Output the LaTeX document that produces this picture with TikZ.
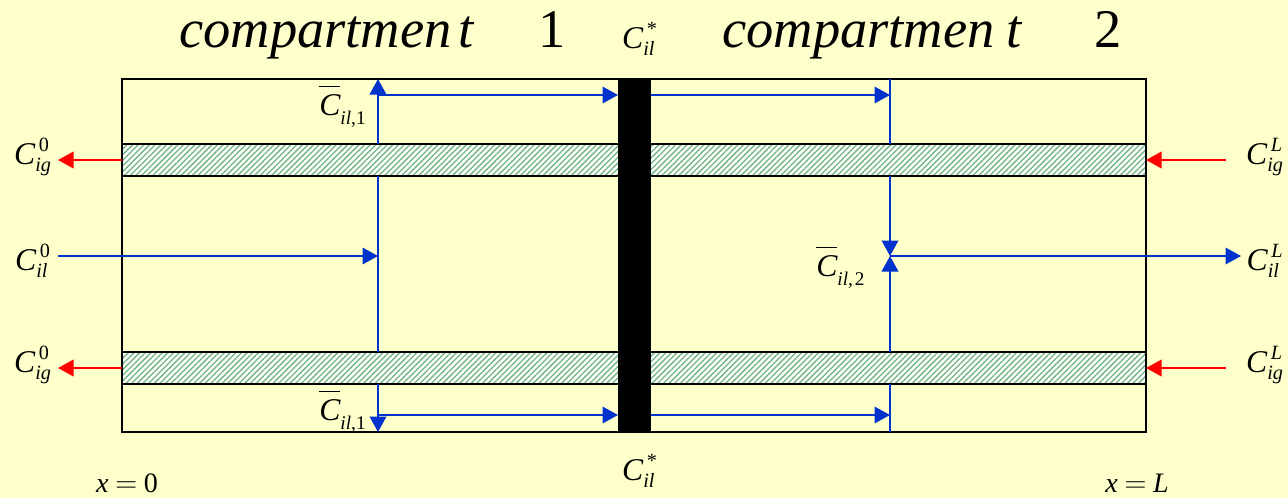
\documentclass[tikz,border=0pt]{standalone}
\usepackage{amsmath}
\usepackage{fontspec}
\setmainfont{Liberation Serif}
\usetikzlibrary{arrows.meta,patterns.meta}
\DeclareMathSizes{18}{18}{11.5}{8}
\definecolor{bgyellow}{RGB}{255,255,204}
\definecolor{flowblue}{RGB}{0,51,204}
\definecolor{hatchgreen}{RGB}{110,180,125}
\newcommand{\conc}[2]{{\fontsize{18}{20}\selectfont$\textit{C}^{\,#1}_{\textit{#2}}$}}
\newcommand{\concbar}[1]{{\fontsize{18}{20}\selectfont$\overline{\rule{0pt}{13.8pt}\textit{C}}$\raisebox{-5.5pt}{\fontsize{11}{12}\selectfont\textit{il},#1}}}
\newcommand{\titletext}[3]{{\fontsize{31}{33}\selectfont\textit{compartmen\kern#1pt t}\hspace{#2pt}#3}}
\tikzset{
	tube/.style = {draw, line width = 0.4mm, outer sep = 0, minimum width = 204.8mm, minimum height = 6.4mm,
		preaction = {fill = white}, preaction = {pattern = {Lines[angle = 45, distance = 0.8mm, line width = 0.26mm]}, pattern color = hatchgreen}},
	flow/.style = {flowblue, line width = 0.4mm},
	flowto/.style = {flow, -{Triangle[length = 3.1mm, width = 3.3mm]}},
	gasflow/.style = {red, line width = 0.4mm, -{Triangle[length = 3.1mm, width = 3.3mm]}},
}
\begin{document}
\begin{tikzpicture}[x = 0.2mm, y = -0.2mm]
		\path [fill = bgyellow, use as bounding box] (0,0) rectangle (1288,498);
		% column and junction points
		\coordinate (midL) at (378,256);
		\coordinate (midR) at (890,256);
		\coordinate (topL) at (378,95);
		\coordinate (botL) at (378,415);
		\coordinate (liqin) at (58,256);
		\coordinate (liqout) at (1241,256);
		\coordinate (gasoutA) at (58,160);
		\coordinate (gasoutB) at (58,368);
		\coordinate (gasinA) at (1226,160);
		\coordinate (gasinB) at (1226,368);
		% shell and tubes
		\node (shell) [draw, line width = 0.4mm, outer sep = 0, minimum width = 204.8mm, minimum height = 70.6mm] at (634,255.5) {};
		\node (tubetop) [tube] at (634,160) {};
		\node (tubebot) [tube] at (634,368) {};
		% liquid side
		\draw [flowto] (liqin) -- (midL);
		\draw [flow] (tubetop.south -| midL) -- (tubebot.north -| midL);
		\draw [flowto] (tubetop.north -| midL) -- (shell.north -| midL);
		\draw [flowto] (tubebot.south -| midL) -- (shell.south -| midL);
		\draw [flow] (shell.north -| midR) -- (tubetop.north -| midR);
		\draw [flow] (tubebot.south -| midR) -- (shell.south -| midR);
		\draw [flowto] (tubetop.south -| midR) -- (midR);
		\draw [flowto] (tubebot.north -| midR) -- (midR);
		\draw [flowto] (midR) -- (liqout);
		% wall between the compartments
		\node (wall) [fill = black, outer sep = 0, inner sep = 0, minimum width = 6.6mm, minimum height = 70.6mm] at (634.5,255.5) {};
		\draw [flowto] (topL) -- (topL -| wall.west);
		\draw [flowto] (topL -| wall.east) -- (topL -| midR);
		\draw [flowto] (botL) -- (botL -| wall.west);
		\draw [flowto] (botL -| wall.east) -- (botL -| midR);
		% gas side
		\draw [gasflow] (tubetop.west) -- (gasoutA);
		\draw [gasflow] (tubebot.west) -- (gasoutB);
		\draw [gasflow] (gasinA) -- (tubetop.east);
		\draw [gasflow] (gasinB) -- (tubebot.east);
		% labels
		\node (titleA) [inner sep = 0, anchor = base west] at (179,47) {\titletext{4}{36}{1}};
		\node (titleB) [inner sep = 0, anchor = base west] at (722,47) {\titletext{6.5}{41}{2}};
		\node (startA) at (33,157) {\conc{\text{0}}{ig}};
		\node (startB) at (33,261) {\conc{\text{0}}{il}};
		\node (startC) at (33,365) {\conc{\text{0}}{ig}};
		\node (endA) at (1265,157) {\conc{\textit{L}}{ig}};
		\node (endB) at (1265,261) {\conc{\textit{L}}{il}};
		\node (endC) at (1265,365) {\conc{\textit{L}}{ig}};
		\node (wallA) at (640,39) {\conc{\text{*}}{il}};
		\node (wallB) at (640,471) {\conc{\text{*}}{il}};
		\node (meanA) [inner sep = 0, anchor = base west] at (319,115) {\concbar{1}};
		\node (meanB) [inner sep = 0, anchor = base west] at (319,420) {\concbar{1}};
		\node (meanC) [inner sep = 0, anchor = base west] at (816,276) {\concbar{\kern1pt 2}};
		\node (posA) [inner sep = 0, anchor = base] at (127,492) {\fontsize{16}{18}\selectfont$\textit{x}\mkern-1mu=\mkern-1mu\text{0}$};
		\node (posB) [inner sep = 0, anchor = base] at (1137,492) {\fontsize{16}{18}\selectfont$\textit{x}\mkern-1mu=\mkern-1mu\textit{L}$};
\end{tikzpicture}
\end{document}
